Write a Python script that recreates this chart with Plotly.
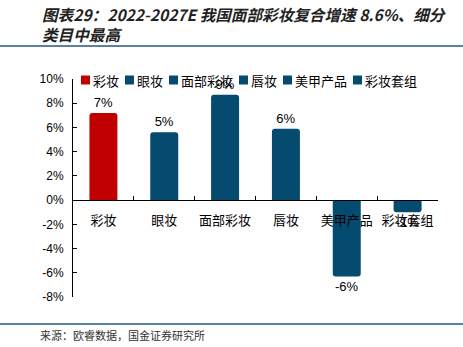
import plotly.graph_objects as go

categories = ["彩妆", "眼妆", "面部彩妆", "唇妆", "美甲产品", "彩妆套组"]
values = [7.2, 5.6, 8.7, 5.9, -6.3, -1.0]
value_labels = ["7%", "5%", "9%", "6%", "-6%", "-1%"]
colors = ["#C00000", "#044B6F", "#044B6F", "#044B6F", "#044B6F", "#044B6F"]
y_ticks = [10, 8, 6, 4, 2, 0, -2, -4, -6, -8]
y_ticktext = [f"{v}%" for v in y_ticks]

title_text = "图表29：2022-2027E 我国面部彩妆复合增速 8.6%、细分<br>类目中最高"
source_text = "来源：欧睿数据，国金证券研究所"

W, H = 463, 347
L, R, T, B = 73, 25, 79, 50
PW = W - L - R
PH = H - T - B
ymin, ymax = -8, 10

fig = go.Figure()
for cat, val, lab, col in zip(categories, values, value_labels, colors):
    fig.add_trace(go.Bar(
        x=[cat], y=[val], name=cat,
        marker=dict(color=col, line=dict(width=0)),
        width=0.46,
        text=[lab], textposition="outside",
        textfont=dict(family="Liberation Sans, Arial", size=13, color="#000000"),
        cliponaxis=False, constraintext="none",
        showlegend=False,
    ))

# manual compact legend (mimics the reference's tight legend)
CJK = "Noto Sans CJK SC"
x_px = 81
leg_y_px = 80
for cat, col in zip(categories, colors):
    sym = 9
    x0 = (x_px - L) / PW
    x1 = (x_px + sym - L) / PW
    y0 = (H - B - (leg_y_px + sym / 2)) / PH
    y1 = (H - B - (leg_y_px - sym / 2)) / PH
    fig.add_shape(type="rect", xref="paper", yref="paper", x0=x0, x1=x1, y0=y0, y1=y1,
                  fillcolor=col, line=dict(width=0), layer="above")
    fig.add_annotation(xref="paper", yref="paper", x=(x_px + sym + 1 - L) / PW,
                       y=(H - B - leg_y_px) / PH, text=cat, showarrow=False,
                       xanchor="left", yanchor="middle",
                       font=dict(family=CJK, size=13, color="#000000"))
    x_px += sym + 2 + 13 * len(cat) + 7

# title
fig.add_annotation(xref="paper", yref="paper", x=(40 - L) / PW, y=(H - B - 1) / PH,
                   text="<b><i>" + title_text + "</i></b>", showarrow=False,
                   xanchor="left", yanchor="top", align="left",
                   font=dict(family=CJK, size=15.6, color="#222222"))
# source
fig.add_annotation(xref="paper", yref="paper", x=(38 - L) / PW, y=(H - B - 335) / PH,
                   text=source_text, showarrow=False, xanchor="left", yanchor="middle",
                   font=dict(family=CJK, size=11, color="#333333"))
# rule lines
for ypx in (46, 324):
    yp = (H - B - ypx) / PH
    fig.add_shape(type="line", xref="paper", yref="paper", x0=(0 - L) / PW, x1=(W - L) / PW,
                  y0=yp, y1=yp, line=dict(color="#24557F", width=1.5))

fig.update_layout(
    width=W, height=H,
    margin=dict(l=L, r=R, t=T, b=B),
    paper_bgcolor="white", plot_bgcolor="white",
    barmode="overlay",
    barcornerradius=3,
    showlegend=False,
    xaxis=dict(
        type="category", categoryorder="array", categoryarray=categories,
        anchor="free", position=(0 - ymin) / (ymax - ymin),
        showline=True, linecolor="#000000", linewidth=1,
        ticks="inside", tickson="boundaries", ticklen=4, tickcolor="#000000",
        tickangle=0, ticklabelstandoff=8,
        tickfont=dict(family=CJK, size=13, color="#000000"),
        showgrid=False, zeroline=False,
    ),
    yaxis=dict(
        range=[ymin, ymax], tickvals=y_ticks, ticktext=y_ticktext,
        showline=True, linecolor="#000000", linewidth=1,
        ticks="inside", ticklen=4, tickcolor="#000000",
        ticklabelstandoff=6,
        tickfont=dict(family="Liberation Sans, Arial", size=12, color="#000000"),
        showgrid=False, zeroline=False,
    ),
)

fig.write_html("out.html")
